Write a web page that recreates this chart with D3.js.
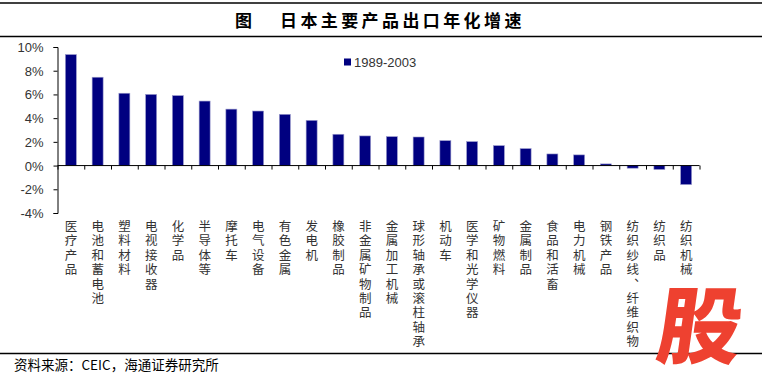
<!DOCTYPE html>
<html><head><meta charset="utf-8">
<script src="https://cdn.jsdelivr.net/npm/d3@7/dist/d3.min.js"></script>
<style>body{margin:0;background:#fff;} svg{display:block;}</style>
</head><body>
<script>
const categories = ["医疗产品","电池和蓄电池","塑料材料","电视接收器","化学品","半导体等","摩托车","电气设备","有色金属","发电机","橡胶制品","非金属矿物制品","金属加工机械","球形轴承或滚柱轴承","机动车","医学和光学仪器","矿物燃料","金属制品","食品和活畜","电力机械","钢铁产品","纺织纱线、纤维织物","纺织品","纺织机械"];
const values = [9.36,7.45,6.1,6.0,5.9,5.44,4.76,4.6,4.32,3.81,2.64,2.5,2.44,2.41,2.1,2.02,1.68,1.43,0.98,0.9,0.14,-0.22,-0.33,-1.6];
const yTicks = [10,8,6,4,2,0,-2,-4];
const seriesName = "1989-2003";
const titleText = "日本主要产品出口年化增速";
const sourceText = "资料来源：CEIC，海通证券研究所";

const W = 765, H = 385;
const svg = d3.select("body").append("svg").attr("width", W).attr("height", H);
const cjk = "'Noto Sans CJK SC', sans-serif";
const lat = "Arial, 'Liberation Sans', sans-serif";

// frame lines
[3, 36.5, 353.5].forEach(y => svg.append("line").attr("x1",0).attr("x2",762).attr("y1",y).attr("y2",y)
  .attr("stroke","#000").attr("stroke-width",1.5));

// title
svg.append("text").attr("x",235).attr("y",27).attr("font-family",cjk).attr("font-size",17).attr("font-weight",700).text("图");
svg.append("text").attr("x",280).attr("y",27).attr("font-family",cjk).attr("font-size",17).attr("font-weight",700)
  .attr("letter-spacing",3.4).text(titleText);

const x = d3.scaleBand().domain(categories).range([57.5, 699.5]).paddingInner(0.59).paddingOuter(0.295);
const y = d3.scaleLinear().domain([-4, 10]).range([213, 47]);

// bars
svg.append("g").selectAll("rect").data(values).join("rect")
  .attr("x",(d,i)=>x(categories[i]))
  .attr("width",x.bandwidth())
  .attr("y",d=>y(Math.max(0,d)))
  .attr("height",d=>Math.abs(y(d)-y(0)))
  .attr("fill","#000080").attr("stroke","#9999cc").attr("stroke-width",0.6);

// y axis
const yAxis = d3.axisLeft(y).tickValues(yTicks).tickSize(4).tickFormat(d=>d+"%");
const gy = svg.append("g").attr("transform","translate(57.5,0)").call(yAxis);
gy.select(".domain").attr("stroke","#000");
gy.selectAll(".tick line").attr("stroke","#000");
gy.selectAll("text").attr("font-family",lat).attr("font-size",13).attr("fill","#333").attr("x",-14).attr("dy","0.35em");

// x axis at zero
const xAxisScale = d3.scaleLinear().domain([0, categories.length]).range([57.5, 699.5]);
const gx = svg.append("g").attr("transform",`translate(0,${y(0)})`)
  .call(d3.axisBottom(xAxisScale).tickValues(d3.range(0, categories.length+1)).tickSize(4).tickFormat(""));
gx.select(".domain").attr("stroke","#000").attr("d",`M57.5,0H699.5`);
gx.selectAll(".tick line").attr("stroke","#000");

// category labels, vertical
svg.append("g").selectAll("text").data(categories).join("text")
  .attr("x",d=>x(d)+x.bandwidth()/2)
  .attr("y",220)
  .style("writing-mode","vertical-rl")
  .attr("font-family",cjk).attr("font-size",12.5).attr("letter-spacing",1.9).attr("fill","#333")
  .text(d=>d);

// legend
svg.append("rect").attr("x",344).attr("y",58.5).attr("width",7).attr("height",7).attr("fill","#000080");
svg.append("text").attr("x",354).attr("y",66.5).attr("font-family",lat).attr("font-size",13).attr("fill","#333").text(seriesName);

// source
svg.append("text").attr("x",14).attr("y",370).attr("font-family",cjk).attr("font-size",13.5).attr("fill","#000").text(sourceText);

// watermark
svg.append("text").attr("transform","translate(654,357) skewX(-8)").attr("font-family",cjk).attr("font-size",84)
  .attr("font-weight",900).attr("fill","#ee4130").text("股");
</script>
</body></html>
